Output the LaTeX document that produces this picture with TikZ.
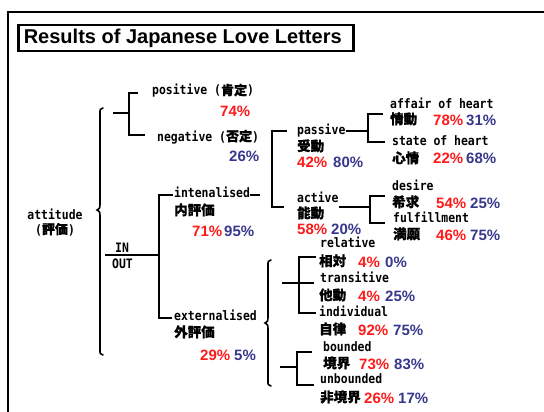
\documentclass[tikz,border=0pt]{standalone}
\usepackage{fontspec}
\setmainfont{Liberation Sans}
\newfontfamily\labf{DejaVu Sans Mono}[FakeStretch=0.88]
\newfontfamily\jpf{Noto Sans CJK JP}[BoldFeatures={FakeBold=0.6}]
\definecolor{pred}{RGB}{255,25,25}
\definecolor{pblue}{RGB}{55,55,140}
\begin{document}
\begin{tikzpicture}[x=1pt,y=-1pt,
  lab/.style={anchor=base west,inner sep=0pt,font=\labf\bfseries\fontsize{13}{13}\selectfont},
  jp/.style={anchor=base west,inner sep=0pt,font=\jpf\bfseries\fontsize{13.5}{14}\selectfont},
  rp/.style={anchor=base west,inner sep=0pt,text=pred,font=\bfseries\fontsize{15}{15}\selectfont},
  bp/.style={anchor=base west,inner sep=0pt,text=pblue,font=\bfseries\fontsize{15}{15}\selectfont},
  ln/.style={line width=1.6pt},
  br/.style={line width=1.6pt,line cap=round}]
\useasboundingbox (0,0) rectangle (544,412);
% frame
\draw[line width=1.4pt] (8,420) -- (8,12) -- (550,12);
\node[draw,line width=2.5pt,minimum width=335pt,minimum height=26pt,inner sep=0pt,anchor=north west,
  font=\bfseries\fontsize{20}{20}\selectfont] (title) at (17,24) {\raisebox{-1pt}{Results of Japanese Love Letters}\hspace*{6pt}};
% attitude
\node[lab,anchor=base] (att) at (55,219) {attitude};
\node[lab,anchor=base] (atj) at (55,234) {(\textnormal{\jpf\bfseries 評価})};
% big brace
\draw[br] (103,108) .. controls (100,109) .. (100,113) -- (100,205) .. controls (100,208) .. (97,210) .. controls (100,212) .. (100,215) -- (100,350) .. controls (100,354) .. (103,355);
% positive / negative
\coordinate (pn0) at (113,113);
\coordinate (pnv) at (129,113);
\draw[ln] (pn0) -- (pnv);
\draw[ln] (138,93) -- (129,93) -- (129,135) -- (145,135);
\node[lab] (pos) at (152,95) {positive (\textnormal{\jpf\bfseries 肯定})};
\node[rp] (pos1) at (220,117) {74\%};
\node[lab] (neg) at (157,141) {negative (\textnormal{\jpf\bfseries 否定})};
\node[bp] (neg2) at (229,161) {26\%};
% IN / OUT
\node[lab] (in) at (115,252) {IN};
\node[lab] (out) at (112,268) {OUT};
\coordinate (io0) at (105,255);
\coordinate (io1) at (159,255);
\draw[ln] (io0) -- (io1);
\draw[ln] (173,195) -- (159,195) -- (159,318) -- (172,318);
% intenalised
\node[lab] (int) at (174,197) {intenalised};
\node[jp] (intj) at (174,215) {内評価};
\node[rp] (int1) at (192,236) {71\%};
\node[bp] (int2) at (224,236) {95\%};
\draw[ln] (int.east |- 0,195) -- (260,195);
% externalised
\node[lab] (ext) at (174,320) {externalised};
\node[jp] (extj) at (174,337) {外評価};
\node[rp] (ext1) at (200,360) {29\%};
\node[bp] (ext2) at (234,360) {5\%};
% passive / active bracket
\draw[ln] (287,131) -- (272,131) -- (272,207) -- (284,207);
\node[lab] (pas) at (297,135) {passive};
\node[jp] (pasj) at (297,151) {受動};
\node[rp] (pas1) at (297,167) {42\%};
\node[bp] (pas2) at (333,167) {80\%};
\node[lab] (act) at (297,202) {active};
\node[jp] (actj) at (297,218) {能動};
\node[rp] (act1) at (297,234) {58\%};
\node[bp] (act2) at (331,234) {20\%};
% passive subtree
\draw[ln] (pas.east |- 0,131) -- (368,131);
\draw[ln] (383,114) -- (368,114) -- (368,142) -- (385,142);
\node[lab] (aff) at (390,109) {affair of heart};
\node[jp] (affj) at (390,124) {情動};
\node[rp] (aff1) at (433,125) {78\%};
\node[bp] (aff2) at (466,125) {31\%};
\node[lab] (sta) at (392,146) {state of heart};
\node[jp] (staj) at (392,163) {心情};
\node[rp] (sta1) at (433,164) {22\%};
\node[bp] (sta2) at (466,164) {68\%};
% active subtree
\draw[ln] (act.east |- 0,207) -- (370,207);
\draw[ln] (385,196) -- (370,196) -- (370,223) -- (385,223);
\node[lab] (des) at (392,190) {desire};
\node[jp] (desj) at (392,207) {希求};
\node[rp] (des1) at (436,208) {54\%};
\node[bp] (des2) at (470,208) {25\%};
\node[lab] (ful) at (393,222) {fulfillment};
\node[jp] (fulj) at (393,239) {満願};
\node[rp] (ful1) at (436,240) {46\%};
\node[bp] (ful2) at (470,240) {75\%};
% lower brace
\draw[br] (271,260) .. controls (268,261) .. (268,265) -- (268,318) .. controls (268,321) .. (265,323) .. controls (268,325) .. (268,328) -- (268,381) .. controls (268,385) .. (271,386);
% group 1
\coordinate (g1a) at (282,283);
\coordinate (g1b) at (314,283);
\draw[ln] (g1a) -- (g1b);
\draw[ln] (316,257) -- (299,257) -- (299,313) -- (316,313);
\node[lab] (rel) at (320,247) {relative};
\node[jp] (relj) at (319,266) {相対};
\node[rp] (rel1) at (358,267) {4\%};
\node[bp] (rel2) at (385,267) {0\%};
\node[lab] (tra) at (320,282) {transitive};
\node[jp] (traj) at (319,300) {他動};
\node[rp] (tra1) at (358,301) {4\%};
\node[bp] (tra2) at (385,301) {25\%};
\node[lab] (ind) at (319,316) {individual};
\node[jp] (indj) at (319,334) {自律};
\node[rp] (ind1) at (358,335) {92\%};
\node[bp] (ind2) at (393,335) {75\%};
% group 2
\coordinate (g2a) at (280,367);
\coordinate (g2b) at (297,367);
\draw[ln] (g2a) -- (g2b);
\draw[ln] (312,352) -- (297,352) -- (297,385) -- (314,385);
\node[lab] (bou) at (323,351) {bounded};
\node[jp] (bouj) at (323,368) {境界};
\node[rp] (bou1) at (359,369) {73\%};
\node[bp] (bou2) at (394,369) {83\%};
\node[lab] (unb) at (320,383) {unbounded};
\node[jp] (unbj) at (320,402) {非境界};
\node[rp] (unb1) at (364,403) {26\%};
\node[bp] (unb2) at (398,403) {17\%};
\end{tikzpicture}
\end{document}
